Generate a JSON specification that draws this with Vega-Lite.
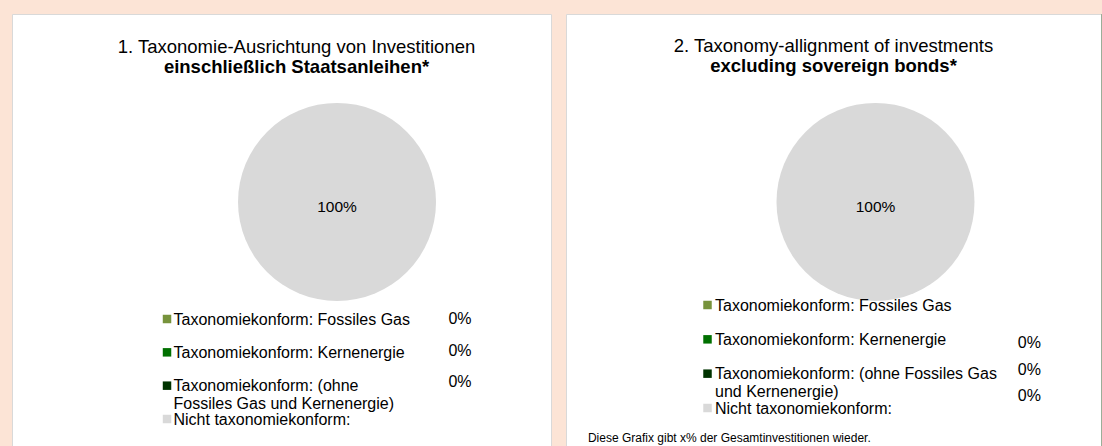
{
  "$schema": "https://vega.github.io/schema/vega-lite/v6.json",
  "background": "#fce4d6",
  "padding": {"left": 11, "top": 12, "right": 4, "bottom": 0},
  "spacing": 13,
  "config": {
    "font": "Liberation Sans",
    "view": {"stroke": null},
    "title": {
      "font": "Liberation Sans", "fontSize": 18.5, "fontWeight": "normal", "color": "#000000",
      "subtitleFont": "Liberation Sans", "subtitleFontSize": 18.5, "subtitleFontWeight": "bold",
      "subtitleColor": "#000000", "subtitlePadding": 1.5, "anchor": "middle", "offset": -62
    }
  },
  "datasets": {
    "left": [
      {"category": "Taxonomiekonform: Fossiles Gas", "label": "Taxonomiekonform: Fossiles Gas", "share": 0},
      {"category": "Taxonomiekonform: Kernenergie", "label": "Taxonomiekonform: Kernenergie", "share": 0},
      {"category": "Taxonomiekonform: (ohne Fossiles Gas und Kernenergie)", "label": "Taxonomiekonform: (ohne\nFossiles Gas und Kernenergie)", "share": 0},
      {"category": "Nicht taxonomiekonform:", "label": "Nicht taxonomiekonform:", "share": 1}
    ],
    "right": [
      {"category": "Taxonomiekonform: Fossiles Gas", "label": "Taxonomiekonform: Fossiles Gas", "share": 0},
      {"category": "Taxonomiekonform: Kernenergie", "label": "Taxonomiekonform: Kernenergie", "share": 0},
      {"category": "Taxonomiekonform: (ohne Fossiles Gas und Kernenergie)", "label": "Taxonomiekonform: (ohne Fossiles Gas\nund Kernenergie)", "share": 0},
      {"category": "Nicht taxonomiekonform:", "label": "Nicht taxonomiekonform:", "share": 1}
    ],
    "note": [
      {"text": "Diese Grafix gibt x% der Gesamtinvestitionen wieder."}
    ]
  },
  "hconcat": [
    {
      "width": 539,
      "height": 434,
      "view": {"fill": "#ffffff", "stroke": "#d9d9d9", "strokeWidth": 1},
      "title": {"text": "1. Taxonomie-Ausrichtung von Investitionen", "subtitle": "einschließlich Staatsanleihen*", "dx": 15},
      "data": {"name": "left"},
      "resolve": {"scale": {"y": "independent"}},
      "layer": [
        {
          "mark": {"type": "arc", "radius": 99},
          "encoding": {
            "theta": {"field": "share", "type": "quantitative", "stack": true},
            "color": {"field": "category", "type": "nominal", "legend": null,
              "scale": {"domain": ["Taxonomiekonform: Fossiles Gas", "Taxonomiekonform: Kernenergie", "Taxonomiekonform: (ohne Fossiles Gas und Kernenergie)", "Nicht taxonomiekonform:"],
                        "range": ["#77933c", "#007000", "#003300", "#d9d9d9"]}},
            "x": {"datum": 0.603, "type": "quantitative", "scale": {"domain": [0, 1]}, "axis": null},
            "y": {"datum": 0.433, "type": "quantitative", "scale": {"domain": [0, 1], "reverse": true}, "axis": null}
          }
        },
        {
          "transform": [{"filter": "datum.share > 0"}],
          "mark": {"type": "text", "fontSize": 15.5, "color": "#000000", "dy": 5, "baseline": "middle"},
          "encoding": {
            "text": {"field": "share", "type": "quantitative", "format": ".0%"},
            "x": {"datum": 0.603, "type": "quantitative", "scale": {"domain": [0, 1]}, "axis": null},
            "y": {"datum": 0.433, "type": "quantitative", "scale": {"domain": [0, 1], "reverse": true}, "axis": null}
          }
        },
        {
          "mark": {"type": "square", "size": 72, "opacity": 1},
          "encoding": {
            "x": {"datum": 0.2876, "type": "quantitative", "scale": {"domain": [0, 1]}, "axis": null},
            "y": {"field": "category", "type": "nominal", "sort": null, "scale": {"type": "point", "range": [305, 405], "padding": 0}, "axis": null},
            "color": {"field": "category", "type": "nominal", "legend": null}
          }
        },
        {
          "mark": {"type": "text", "align": "left", "baseline": "alphabetic", "dy": 5.7, "fontSize": 16, "lineBreak": "\n", "lineHeight": 17.5, "color": "#000000"},
          "encoding": {
            "x": {"datum": 0.2996, "type": "quantitative", "scale": {"domain": [0, 1]}, "axis": null},
            "y": {"field": "category", "type": "nominal", "sort": null, "scale": {"type": "point", "range": [305, 405], "padding": 0}, "axis": null},
            "text": {"field": "label", "type": "nominal"}
          }
        },
        {
          "transform": [{"filter": "datum.share == 0"}],
          "mark": {"type": "text", "align": "center", "baseline": "middle", "fontSize": 16, "color": "#000000"},
          "encoding": {
            "x": {"datum": 0.8312, "type": "quantitative", "scale": {"domain": [0, 1]}, "axis": null},
            "y": {"field": "category", "type": "nominal", "sort": null, "scale": {"type": "point", "range": [305, 368], "padding": 0}, "axis": null},
            "text": {"field": "share", "type": "quantitative", "format": ".0%"}
          }
        }
      ]
    },
    {
      "width": 535,
      "height": 434,
      "view": {"fill": "#ffffff", "stroke": "#d9d9d9", "strokeWidth": 1},
      "title": {"text": "2. Taxonomy-allignment of investments", "subtitle": "excluding sovereign bonds*"},
      "data": {"name": "right"},
      "resolve": {"scale": {"y": "independent"}},
      "layer": [
        {
          "mark": {"type": "arc", "radius": 99},
          "encoding": {
            "theta": {"field": "share", "type": "quantitative", "stack": true},
            "color": {"field": "category", "type": "nominal", "legend": null},
            "x": {"datum": 0.5785, "type": "quantitative", "scale": {"domain": [0, 1]}, "axis": null},
            "y": {"datum": 0.433, "type": "quantitative", "scale": {"domain": [0, 1], "reverse": true}, "axis": null}
          }
        },
        {
          "transform": [{"filter": "datum.share > 0"}],
          "mark": {"type": "text", "fontSize": 15.5, "color": "#000000", "dy": 5, "baseline": "middle"},
          "encoding": {
            "text": {"field": "share", "type": "quantitative", "format": ".0%"},
            "x": {"datum": 0.5785, "type": "quantitative", "scale": {"domain": [0, 1]}, "axis": null},
            "y": {"datum": 0.433, "type": "quantitative", "scale": {"domain": [0, 1], "reverse": true}, "axis": null}
          }
        },
        {
          "mark": {"type": "square", "size": 72, "opacity": 1},
          "encoding": {
            "x": {"datum": 0.2645, "type": "quantitative", "scale": {"domain": [0, 1]}, "axis": null},
            "y": {"field": "category", "type": "nominal", "sort": null, "scale": {"type": "point", "range": [291, 394], "padding": 0}, "axis": null},
            "color": {"field": "category", "type": "nominal", "legend": null}
          }
        },
        {
          "mark": {"type": "text", "align": "left", "baseline": "alphabetic", "dy": 5.7, "fontSize": 16, "lineBreak": "\n", "lineHeight": 18, "color": "#000000"},
          "encoding": {
            "x": {"datum": 0.2785, "type": "quantitative", "scale": {"domain": [0, 1]}, "axis": null},
            "y": {"field": "category", "type": "nominal", "sort": null, "scale": {"type": "point", "range": [291, 394], "padding": 0}, "axis": null},
            "text": {"field": "label", "type": "nominal"}
          }
        },
        {
          "transform": [{"filter": "datum.share == 0"}],
          "mark": {"type": "text", "align": "center", "baseline": "middle", "fontSize": 16, "color": "#000000"},
          "encoding": {
            "x": {"datum": 0.866, "type": "quantitative", "scale": {"domain": [0, 1]}, "axis": null},
            "y": {"field": "category", "type": "nominal", "sort": null, "scale": {"type": "point", "range": [329, 382], "padding": 0}, "axis": null},
            "text": {"field": "share", "type": "quantitative", "format": ".0%"}
          }
        },
        {
          "data": {"name": "note"},
          "mark": {"type": "text", "align": "left", "baseline": "middle", "fontSize": 12, "color": "#000000"},
          "encoding": {
            "x": {"datum": 0.041, "type": "quantitative", "scale": {"domain": [0, 1]}, "axis": null},
            "y": {"datum": 0.977, "type": "quantitative", "scale": {"domain": [0, 1], "reverse": true}, "axis": null},
            "text": {"field": "text", "type": "nominal"}
          }
        },
        {
          "data": {"name": "note"},
          "mark": {"type": "rule", "color": "#3f6f3a", "strokeWidth": 2},
          "encoding": {
            "x": {"datum": 1.003, "type": "quantitative", "scale": {"domain": [0, 1]}, "axis": null}
          }
        }
      ]
    }
  ]
}
